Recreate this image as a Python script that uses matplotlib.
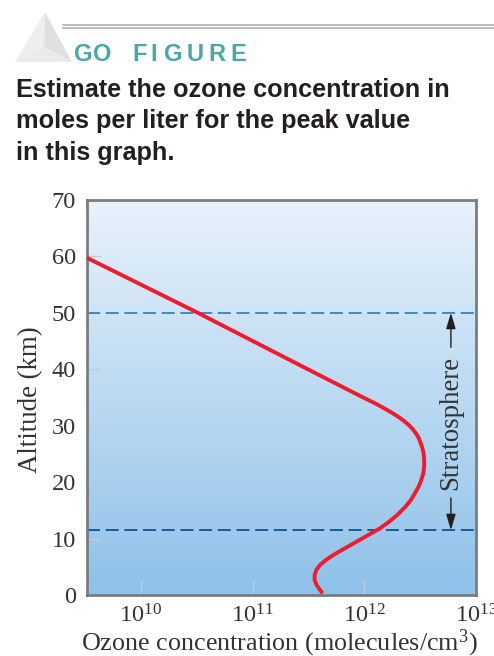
import numpy as np
from matplotlib import pyplot as plt
from matplotlib.patches import Polygon, FancyArrowPatch

# altitude (km) and log10 of ozone concentration (molecules per cm3)
altitude = [59.75, 50, 40, 35.0, 34.2, 33.5, 32.9, 32.2, 31.5, 30.89, 30.13, 29.36, 28.65, 27.94,
            27.17, 26.29, 25.40, 24.51, 23.33, 22.45, 21.56, 20.38, 19.20, 18.02, 16.84, 15.65,
            14.18, 13.0, 11.81, 10.63, 9.45, 8.27, 7.09, 6.20, 5.32, 4.43, 3.54, 2.66, 1.77,
            0.89, 0.30]
log_concentration = [9.517, 10.51, 11.495, 11.990, 12.073, 12.140, 12.195, 12.255, 12.310, 12.352, 12.398,
                     12.435, 12.462, 12.484, 12.500, 12.516, 12.528, 12.534, 12.537, 12.534, 12.528,
                     12.510, 12.486, 12.453, 12.417, 12.369, 12.295, 12.223, 12.140, 12.035, 11.931,
                     11.826, 11.722, 11.656, 11.603, 11.570, 11.555, 11.555, 11.573, 11.603, 11.626]
boundaries = [50, 11.5]
boundary_colors = ['#3d7fb5', '#0b5394']
x_ticks = [1e10, 1e11, 1e12, 1e13]
x_tick_labels = ['10', '11', '12', '13']
y_ticks = [0, 10, 20, 30, 40, 50, 60, 70]

W, H = 494, 656
serif = 'Liberation Serif'
sans = 'Liberation Sans'
plt.rcParams['mathtext.fontset'] = 'custom'
plt.rcParams['mathtext.rm'] = serif

def fx(px):
    return px / W

def fy(py):
    return 1 - py / H

fig = plt.figure(figsize=(W / 100, H / 100), dpi=100)

# header
for y in [24.5, 28]:
    fig.add_artist(plt.Line2D([fx(63), 1], [fy(y), fy(y)], color='#a9abad', lw=1.1))
apex, left, right, mid = (45, 12), (15, 62), (72, 62), (44, 47)
for pts, col in [((apex, left, mid), '#eeeeef'), ((apex, right, mid), '#dfe0e2'), ((left, right, mid), '#e9eaeb')]:
    fig.add_artist(Polygon([(fx(a), fy(b)) for a, b in pts], closed=True, color=col, lw=0,
                           transform=fig.transFigure))
letters = 'GOFIGURE'
letter_x = [74, 93, 132, 150, 164, 187, 208, 230]
for ch, x in zip(letters, letter_x):
    fig.text(fx(x), fy(61), ch, color='#4aa7a9', fontsize=17, fontweight='bold', family=sans, va='baseline')
for line, y in zip(['Estimate the ozone concentration in', 'moles per liter for the peak value', 'in this graph.'],
                   [97, 128, 160]):
    fig.text(fx(16), fy(y), line, color='#231f20', fontsize=18.2, fontweight='bold', family=sans, va='baseline')

# chart
ax = fig.add_axes([fx(87), fy(595), (476 - 87) / W, (595 - 200) / H])
ax.set_xscale('log')
grad = np.linspace(0, 1, 256).reshape(-1, 1)
top = np.array([0xe8, 0xf2, 0xfb]) / 255
bottom = np.array([0x8f, 0xc1, 0xe9]) / 255
img = top + (bottom - top) * grad[..., None]
ax.imshow(img, extent=(0, 1, 0, 1), transform=ax.transAxes, aspect='auto', zorder=0)
ax.set_xlim(10 ** 9.517, 1e13)
ax.set_ylim(0, 70)

for b, c in zip(boundaries, boundary_colors):
    ax.axhline(b, color=c, lw=1.3, dashes=(7.2, 3.15), zorder=2)
ax.plot(10 ** np.array(log_concentration), altitude, color='#ed1c2e', lw=2.8, solid_joinstyle='round',
        solid_capstyle='butt', zorder=3)

ax.set_xticks(x_ticks)
ax.set_xticklabels(['$\\mathregular{10^{%s}}$' % t for t in x_tick_labels], family=serif, fontsize=17.6,
                   color='#333333', clip_on=False)
ax.minorticks_off()
ax.set_yticks(y_ticks)
ax.set_yticklabels([str(t) for t in y_ticks], family=serif, fontsize=17.6, color='#333333')
ax.tick_params(axis='x', direction='in', length=11, width=1, color='#c4ccd4', pad=7)
ax.tick_params(axis='y', direction='in', length=10, width=1, color='#c4ccd4', pad=8)
for s in ax.spines.values():
    s.set_color('#7a7c7e')
    s.set_linewidth(2)
ax.set_xlabel('Ozone concentration (molecules/cm$\\mathregular{^3}$)', family=serif, fontsize=18.8, color='#333333')
ax.xaxis.set_label_coords((279 - 87) / 389, -(643 - 595) / 395, transform=ax.transAxes)
ax.xaxis.label.set_va('center')
ax.set_ylabel('Altitude (km)', family=serif, fontsize=19.4, color='#333333')
ax.yaxis.set_label_coords((31 - 87) / 389, (595 - 400) / 395, transform=ax.transAxes)
ax.yaxis.label.set_va('center')

# stratosphere bracket
arrow_x = 10 ** (10 + (451 - 141) / 111.7)
ax.text(arrow_x, 30.5, 'Stratosphere', rotation=90, family=serif, fontsize=19.4, color='#333333',
        ha='center', va='center', zorder=4)
for y0, y1 in [(43.9, 50), (17.2, 11.5)]:
    ax.add_patch(FancyArrowPatch((arrow_x, y0), (arrow_x, y1), arrowstyle='-|>,head_length=0.6,head_width=0.18',
                                 mutation_scale=16, color='#231f20', lw=1, shrinkA=0, shrinkB=0, zorder=4))

fig.savefig('out.png', dpi=100)
